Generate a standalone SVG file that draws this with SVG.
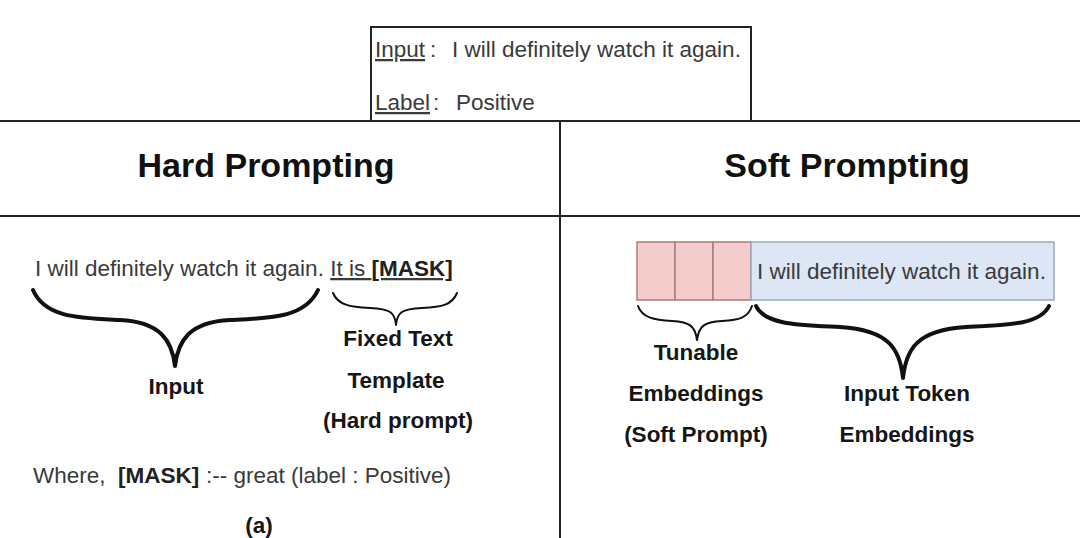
<svg xmlns="http://www.w3.org/2000/svg" width="1080" height="538" viewBox="0 0 1080 538">
<style>
.t{font-family:"Liberation Sans",Arial,sans-serif;fill:#3a3a3a;font-size:22.5px}
.b{font-family:"Liberation Sans",Arial,sans-serif;fill:#161616;font-weight:bold;font-size:22.5px}
.h{font-family:"Liberation Sans",Arial,sans-serif;fill:#111;font-weight:bold;font-size:34px}
.ln{stroke:#222;stroke-width:2;fill:none}
.br{fill:none;stroke:#111;stroke-linecap:round;stroke-linejoin:round}
</style>
<rect width="1080" height="538" fill="#fff"/>
<g id="frame">
<line class="ln" x1="0" y1="121" x2="1080" y2="121"/>
<line class="ln" x1="0" y1="216" x2="1080" y2="216"/>
<line class="ln" x1="560" y1="121" x2="560" y2="538" stroke-width="1.5"/>
</g>
<g id="example-box">
<rect x="371" y="27" width="380" height="94" fill="#fff" stroke="#222" stroke-width="2"/>
<text class="t" x="375" y="57"><tspan text-decoration="underline">Input</tspan><tspan x="430">:</tspan><tspan x="452">I will definitely watch it again.</tspan></text>
<text class="t" x="375" y="110"><tspan text-decoration="underline">Label</tspan><tspan x="433">:</tspan><tspan x="456">Positive</tspan></text>
</g>
<g id="hard-title"><text class="h" x="266" y="177" text-anchor="middle">Hard Prompting</text></g>
<g id="soft-title"><text class="h" x="847" y="177" text-anchor="middle">Soft Prompting</text></g>
<g id="hard-sentence">
<text class="t" x="35" y="276">I will definitely watch it again. <tspan text-decoration="underline">It is <tspan class="b" style="fill:#222">[MASK]</tspan></tspan></text>
</g>
<g id="connectors">
<path class="br" stroke-width="4" d="M33,290 C45,318 80,318 120,320 C160,322 172,340 175,366 C178,340 190,322 230,320 C270,318 305,318 318,290"/>
<path class="br" stroke-width="2" d="M333,293 C338,305 350,307 370,308 C390,309 395,312 396,325 C397,312 402,309 422,308 C442,307 452,305 457,293"/>
<path class="br" stroke-width="2" d="M638,306 C642,318 655,320 672,321 C690,322 695,326 697,340 C699,326 704,322 722,321 C739,320 748,318 752,306"/>
<path class="br" stroke-width="4" d="M756,306 C765,325 800,325 840,327 C890,330 900,350 903,378 C906,350 916,330 966,327 C1006,325 1040,325 1049,306"/>
</g>
<g id="input-label"><text class="b" x="176" y="394" text-anchor="middle">Input</text></g>
<g id="template-label">
<text class="b" x="398" y="346" text-anchor="middle">Fixed Text</text>
<text class="b" x="396" y="388" text-anchor="middle">Template</text>
<text class="b" x="398" y="428" text-anchor="middle">(Hard prompt)</text>
</g>
<g id="where"><text class="t" x="33" y="483">Where,<tspan class="b" x="118" style="fill:#222">[MASK]</tspan><tspan x="206">:-- great (label : Positive)</tspan></text></g>
<g id="caption"><text class="b" x="259" y="533" text-anchor="middle">(a)</text></g>
<g id="soft-embeddings">
<rect x="637" y="242" width="38" height="58" fill="#f4cccb" stroke="#b07a7a" stroke-width="1.5"/>
<rect x="675" y="242" width="38" height="58" fill="#f4cccb" stroke="#b07a7a" stroke-width="1.5"/>
<rect x="713" y="242" width="38" height="58" fill="#f4cccb" stroke="#b07a7a" stroke-width="1.5"/>
<rect x="751" y="242" width="303" height="58" fill="#dce6f5" stroke="#9aa8bc" stroke-width="1.5"/>
<text class="t" x="757" y="279">I will definitely watch it again.</text>
</g>
<g id="tunable-label">
<text class="b" x="696" y="360" text-anchor="middle">Tunable</text>
<text class="b" x="696" y="401" text-anchor="middle">Embeddings</text>
<text class="b" x="696" y="442" text-anchor="middle">(Soft Prompt)</text>
</g>
<g id="token-label">
<text class="b" x="907" y="401" text-anchor="middle">Input Token</text>
<text class="b" x="907" y="442" text-anchor="middle">Embeddings</text>
</g>
</svg>
